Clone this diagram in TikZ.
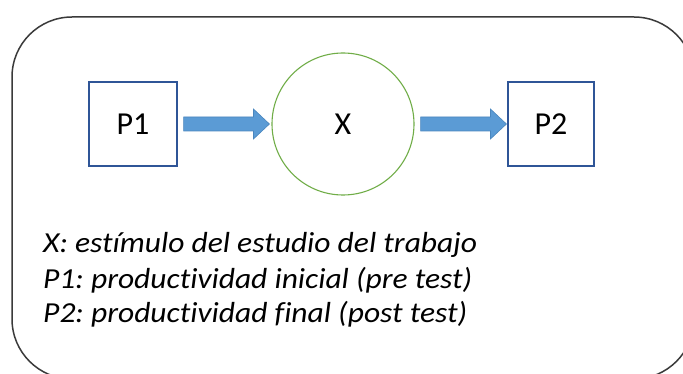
\documentclass[tikz,border=0pt]{standalone}
\usepackage{fontspec}
\setmainfont{Carlito}[Ligatures={NoCommon}]
\usetikzlibrary{calc}
\definecolor{boxblue}{HTML}{2F5597}
\definecolor{circgreen}{HTML}{70AD47}
\definecolor{arrfill}{HTML}{5B9BD5}
\definecolor{arrline}{HTML}{4A86BE}
\definecolor{framegray}{HTML}{3A3A3A}
\frenchspacing
\tikzset{
  box/.style={draw=boxblue, line width=1.1pt, minimum width=88pt, minimum height=84pt, inner sep=0pt, font=\fontsize{32}{38}\selectfont},
  circ/.style={draw=circgreen, line width=1.1pt, circle, minimum size=142pt, inner sep=0pt, font=\fontsize{32}{38}\selectfont},
  blockarrow/.style={fill=arrfill, draw=arrline, line width=0.6pt},
  legend/.style={anchor=base west, inner sep=0pt, font=\fontsize{29}{35}\selectfont\itshape},
  frame/.style={draw=framegray, line width=1.5pt, rounded corners=60pt}
}
\newcommand{\blockarr}[2]{%
  \draw[blockarrow] let \p1=(#1), \p2=(#2) in
    (\x1,\y1-7) -- (\x2-16,\y1-7) -- (\x2-16,\y1-15) -- (\x2,\y1)
    -- (\x2-16,\y1+15) -- (\x2-16,\y1+7) -- (\x1,\y1+7) -- cycle;}
\newcommand{\fitline}[2]{\resizebox{#1}{\height}{#2}}
\begin{document}
\begin{tikzpicture}[x=1pt,y=-1pt]
\useasboundingbox (0,0) rectangle (683,374);
\clip (0,0) rectangle (683,374);
\fill[white] (0,0) rectangle (683,374);
\draw[frame] (12,17) rectangle (694,379);
\node[box] (p1) at (133,124) {P1};
\node[circ] (x) at (343,124) {X};
\node[box, minimum width=86pt] (p2) at (551,124) {P2};
\coordinate (a1s) at ([xshift=6pt]p1.east);
\coordinate (a1e) at ([xshift=-2pt]x.west);
\coordinate (a2s) at ([xshift=6pt]x.east);
\coordinate (a2e) at ([xshift=-1pt]p2.west);
\blockarr{a1s}{a1e}
\blockarr{a2s}{a2e}
\node[legend] (t1) at (43,253) {\fitline{434pt}{X: estímulo del estudio del trabajo}};
\node[legend] (t2) at (43,288) {\fitline{429pt}{P1: productividad inicial (pre test)}};
\node[legend] (t3) at (43,322) {\fitline{424pt}{P2: productividad final (post test)}};
\end{tikzpicture}
\end{document}
